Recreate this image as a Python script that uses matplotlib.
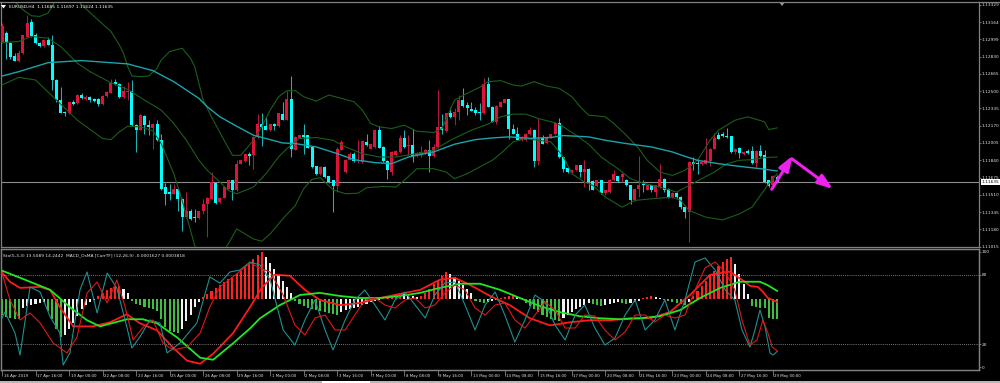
import matplotlib
matplotlib.use("Agg")
import matplotlib.pyplot as plt
import matplotlib.transforms as mtransforms
from matplotlib.lines import Line2D
from matplotlib.patches import Rectangle, Polygon
import numpy as np

plt.rcParams['font.family'] = ['DejaVu Sans']

# EURUSD H4, bars from 16 Apr 2019 08:00 to 29 May 2019 04:00
opens = [1.12977, 1.13057, 1.12967, 1.12839, 1.12795, 1.12865, 1.13025, 1.13159, 1.13041, 1.12967,
         1.12935, 1.12993, 1.12945, 1.12609, 1.12417, 1.12305, 1.12289, 1.12401, 1.12385, 1.12465,
         1.12427, 1.12449, 1.12423, 1.12427, 1.12379, 1.12455, 1.12487, 1.12590, 1.12571, 1.12443,
         1.12494, 1.12507, 1.12177, 1.12135, 1.12263, 1.12177, 1.12151, 1.12187, 1.12033, 1.11585,
         1.11537, 1.11521, 1.11569, 1.11473, 1.11297, 1.11361, 1.11297, 1.11291, 1.11353, 1.11419,
         1.11473, 1.11623, 1.11438, 1.11483, 1.11569, 1.11649, 1.11553, 1.11809, 1.11835, 1.11899,
         1.11889, 1.12065, 1.12193, 1.12167, 1.12129, 1.12187, 1.12167, 1.12283, 1.12231, 1.12423,
         1.11943, 1.12059, 1.12081, 1.12081, 1.11969, 1.11783, 1.11707, 1.11777, 1.11687, 1.11649,
         1.11598, 1.11943, 1.11729, 1.11847, 1.11905, 1.11841, 1.11825, 1.12017, 1.11953, 1.11969,
         1.12129, 1.11969, 1.11835, 1.11729, 1.11889, 1.11921, 1.12055, 1.11982, 1.11985, 1.11879,
         1.11889, 1.11905, 1.11943, 1.11879, 1.11969, 1.12155, 1.12123, 1.12289, 1.12257, 1.12305,
         1.12417, 1.12369, 1.12331, 1.12321, 1.12305, 1.12289, 1.12571, 1.12353, 1.12209, 1.12353,
         1.12391, 1.12423, 1.12145, 1.12097, 1.12033, 1.12033, 1.12091, 1.12135, 1.11835, 1.12059,
         1.12007, 1.12059, 1.12091, 1.12199, 1.11873, 1.11771, 1.11729, 1.11745, 1.11793, 1.11729,
         1.11761, 1.11643, 1.11591, 1.11649, 1.11527, 1.11537, 1.11649, 1.11687, 1.11681, 1.11649,
         1.11601, 1.11457, 1.11569, 1.11611, 1.11559, 1.11601, 1.11537, 1.11585, 1.11665, 1.11569,
         1.11489, 1.11527, 1.11489, 1.11393, 1.11345, 1.11825, 1.11815, 1.11803, 1.11809, 1.11835,
         1.11953, 1.12081, 1.12097, 1.12071, 1.12071, 1.11921, 1.11963, 1.11899, 1.11931, 1.11931,
         1.11815, 1.11931, 1.11889, 1.11649, 1.11601, 1.11685]
highs = [1.13153, 1.13073, 1.12977, 1.12865, 1.12897, 1.13041, 1.13233, 1.13191, 1.13057, 1.12977,
         1.13000, 1.13025, 1.13041, 1.12615, 1.12539, 1.12315, 1.12401, 1.12417, 1.12471, 1.12481,
         1.12465, 1.12459, 1.12433, 1.12433, 1.12465, 1.12507, 1.12615, 1.12615, 1.12577, 1.12551,
         1.12593, 1.12609, 1.12187, 1.12280, 1.12270, 1.12225, 1.12199, 1.12231, 1.12097, 1.11623,
         1.11617, 1.11617, 1.11579, 1.11483, 1.11537, 1.11374, 1.11377, 1.11361, 1.11473, 1.11489,
         1.11729, 1.11633, 1.11489, 1.11591, 1.11655, 1.11655, 1.11847, 1.11847, 1.11905, 1.11921,
         1.12071, 1.12283, 1.12289, 1.12257, 1.12193, 1.12199, 1.12295, 1.12401, 1.12507, 1.12647,
         1.12071, 1.12087, 1.12193, 1.12087, 1.11975, 1.11789, 1.11783, 1.11783, 1.11694, 1.11655,
         1.11969, 1.12039, 1.11854, 1.11921, 1.11921, 1.12033, 1.12033, 1.12091, 1.12001, 1.12142,
         1.12167, 1.11975, 1.11841, 1.11927, 1.11937, 1.12081, 1.12129, 1.12081, 1.12145, 1.11918,
         1.11975, 1.11950, 1.12033, 1.12001, 1.12513, 1.12283, 1.12295, 1.12347, 1.12337, 1.12465,
         1.12529, 1.12401, 1.12401, 1.12353, 1.12385, 1.12625, 1.12635, 1.12359, 1.12366, 1.12407,
         1.12430, 1.12430, 1.12193, 1.12161, 1.12071, 1.12103, 1.12161, 1.12142, 1.12241, 1.12081,
         1.12071, 1.12097, 1.12206, 1.12241, 1.11879, 1.11777, 1.11758, 1.11799, 1.11799, 1.11841,
         1.11767, 1.11649, 1.11655, 1.11655, 1.11559, 1.11665, 1.11745, 1.11694, 1.11719, 1.11665,
         1.11607, 1.11575, 1.11879, 1.11649, 1.11607, 1.11607, 1.11607, 1.11809, 1.11671, 1.11575,
         1.11534, 1.11537, 1.11495, 1.11399, 1.11831, 1.11873, 1.11857, 1.11831, 1.12059, 1.11959,
         1.12103, 1.12113, 1.12113, 1.12153, 1.12077, 1.11959, 1.11969, 1.11927, 1.11953, 1.11975,
         1.11937, 1.11985, 1.11937, 1.11655, 1.11697, 1.11697]
lows = [1.12961, 1.12807, 1.12807, 1.12788, 1.12785, 1.12859, 1.13019, 1.13025, 1.12955, 1.12929,
        1.12929, 1.12939, 1.12513, 1.12401, 1.12289, 1.12263, 1.12283, 1.12369, 1.12379, 1.12427,
        1.12417, 1.12401, 1.12401, 1.12359, 1.12372, 1.12449, 1.12481, 1.12558, 1.12436, 1.12436,
        1.12417, 1.12167, 1.11921, 1.12129, 1.12097, 1.12081, 1.11953, 1.12027, 1.11559, 1.11409,
        1.11457, 1.11515, 1.11361, 1.11169, 1.11291, 1.11271, 1.11249, 1.11281, 1.11329, 1.11105,
        1.11467, 1.11425, 1.11431, 1.11476, 1.11563, 1.11457, 1.11547, 1.11803, 1.11828, 1.11793,
        1.11761, 1.12059, 1.11975, 1.12129, 1.12123, 1.12129, 1.12161, 1.12225, 1.12225, 1.11873,
        1.11937, 1.12052, 1.11905, 1.11956, 1.11771, 1.11700, 1.11700, 1.11675, 1.11627, 1.11345,
        1.11537, 1.11937, 1.11723, 1.11841, 1.11825, 1.11815, 1.11819, 1.11979, 1.11947, 1.11963,
        1.11956, 1.11828, 1.11665, 1.11697, 1.11883, 1.11915, 1.11963, 1.11889, 1.11825, 1.11873,
        1.11873, 1.11899, 1.11729, 1.11873, 1.11963, 1.12097, 1.12116, 1.12244, 1.12177, 1.12225,
        1.12353, 1.12273, 1.12308, 1.12273, 1.12225, 1.12283, 1.12347, 1.12203, 1.12187, 1.12347,
        1.12385, 1.12049, 1.12091, 1.12033, 1.12027, 1.12027, 1.12084, 1.11777, 1.11793, 1.11995,
        1.12001, 1.12052, 1.12084, 1.11867, 1.11729, 1.11723, 1.11723, 1.11739, 1.11681, 1.11585,
        1.11553, 1.11553, 1.11585, 1.11521, 1.11505, 1.11531, 1.11643, 1.11636, 1.11633, 1.11595,
        1.11419, 1.11451, 1.11489, 1.11537, 1.11553, 1.11537, 1.11489, 1.11579, 1.11537, 1.11483,
        1.11483, 1.11483, 1.11377, 1.11291, 1.11057, 1.11745, 1.11713, 1.11796, 1.11803, 1.11783,
        1.11947, 1.12043, 1.12065, 1.12059, 1.11915, 1.11899, 1.11867, 1.11892, 1.11905, 1.11809,
        1.11777, 1.11873, 1.11627, 1.11585, 1.11595, 1.11624]
closes = [1.13127, 1.12961, 1.12833, 1.12795, 1.12871, 1.13035, 1.13153, 1.13031, 1.12961, 1.12935,
          1.12993, 1.12945, 1.12609, 1.12417, 1.12295, 1.12289, 1.12395, 1.12379, 1.12465, 1.12433,
          1.12449, 1.12417, 1.12411, 1.12379, 1.12459, 1.12497, 1.12583, 1.12567, 1.12443, 1.12507,
          1.12507, 1.12177, 1.12135, 1.12273, 1.12177, 1.12155, 1.12187, 1.12033, 1.11569, 1.11521,
          1.11521, 1.11569, 1.11473, 1.11297, 1.11361, 1.11281, 1.11291, 1.11353, 1.11425, 1.11483,
          1.11633, 1.11431, 1.11483, 1.11585, 1.11649, 1.11553, 1.11809, 1.11841, 1.11899, 1.11883,
          1.12065, 1.12193, 1.12155, 1.12135, 1.12187, 1.12167, 1.12289, 1.12231, 1.12423, 1.11953,
          1.12065, 1.12081, 1.12065, 1.11963, 1.11777, 1.11707, 1.11777, 1.11681, 1.11633, 1.11598,
          1.11953, 1.12017, 1.11847, 1.11905, 1.11835, 1.11847, 1.12027, 1.11985, 1.11995, 1.12135,
          1.11963, 1.11835, 1.11745, 1.11921, 1.11931, 1.12059, 1.11969, 1.11985, 1.11879, 1.11911,
          1.11921, 1.11943, 1.11879, 1.11969, 1.12155, 1.12129, 1.12289, 1.12251, 1.12305, 1.12417,
          1.12359, 1.12337, 1.12315, 1.12295, 1.12289, 1.12571, 1.12353, 1.12209, 1.12359, 1.12401,
          1.12423, 1.12145, 1.12097, 1.12039, 1.12065, 1.12097, 1.12135, 1.11835, 1.12059, 1.12001,
          1.12065, 1.12091, 1.12199, 1.11873, 1.11761, 1.11729, 1.11751, 1.11793, 1.11729, 1.11761,
          1.11633, 1.11559, 1.11649, 1.11527, 1.11553, 1.11649, 1.11713, 1.11643, 1.11707, 1.11601,
          1.11463, 1.11569, 1.11601, 1.11601, 1.11601, 1.11553, 1.11601, 1.11665, 1.11559, 1.11489,
          1.11527, 1.11489, 1.11393, 1.11345, 1.11825, 1.11803, 1.11809, 1.11825, 1.11847, 1.11953,
          1.12059, 1.12049, 1.12071, 1.12065, 1.11921, 1.11953, 1.11911, 1.11921, 1.11911, 1.11815,
          1.11931, 1.11879, 1.11633, 1.11591, 1.11687, 1.11635]

date_labels = ['16 Apr 2019', '17 Apr 16:00', '19 Apr 00:00', '22 Apr 08:00', '23 Apr 16:00',
               '25 Apr 00:00', '26 Apr 08:00', '29 Apr 16:00', '1 May 00:00', '2 May 08:00',
               '3 May 16:00', '7 May 00:00', '8 May 08:00', '9 May 16:00', '13 May 00:00',
               '14 May 08:00', '15 May 16:00', '17 May 00:00', '20 May 08:00', '21 May 16:00',
               '23 May 00:00', '24 May 08:00', '27 May 16:00', '29 May 00:00']
price_labels = ['1.11015', '1.11180', '1.11345', '1.11510', '1.11675', '1.11840', '1.12005', '1.12170',
                '1.12335', '1.12500', '1.12665', '1.12830', '1.12999', '1.13164', '1.13329']

# moving average (teal) sampled at bars
ma_x = [0, 4, 11, 19, 30, 36, 41, 47, 49, 52, 56, 60, 67, 70, 75, 80, 84, 89, 93, 97, 103, 108, 113,
        117, 121, 126, 131, 134, 140, 144, 149, 155, 160, 163, 166, 171, 176, 181, 185]
ma_v = [1.12647, 1.12689, 1.12775, 1.12795, 1.12763, 1.12699, 1.12593, 1.12433, 1.12353, 1.12257,
        1.12167, 1.12081, 1.12007, 1.12001, 1.11969, 1.11905, 1.11847, 1.11819, 1.11809, 1.11873,
        1.11921, 1.11995, 1.12039, 1.12055, 1.12065, 1.12052, 1.12059, 1.12078, 1.12065, 1.12033,
        1.12001, 1.11969, 1.11921, 1.11879, 1.11841, 1.11809, 1.11783, 1.11761, 1.11739]

# Bollinger bands (dark green) sampled at bars
bb_up_x = [0, 3, 5, 7, 9, 11, 12, 13, 15, 17, 19, 22, 26, 28, 29, 30, 31, 33, 35, 37, 38, 40, 43, 45,
           46, 48, 50, 53, 55, 57, 60, 62, 64, 66, 68, 70, 72, 75, 78, 81, 84, 86, 88, 90, 93, 96,
           99, 103, 105, 108, 111, 114, 116, 119, 122, 124, 127, 130, 133, 136, 138, 140, 144, 146,
           149, 152, 154, 157, 160, 163, 166, 169, 171, 175, 178, 182, 183, 185]
bb_up = [1.13473, 1.13361, 1.13281, 1.13223, 1.13217, 1.13249, 1.13313, 1.13409, 1.13473, 1.13425,
         1.13329, 1.13217, 1.13073, 1.12945, 1.12865, 1.12737, 1.12647, 1.12641, 1.12647, 1.12721,
         1.12801, 1.12881, 1.12913, 1.12817, 1.12737, 1.12417, 1.12257, 1.12033, 1.11889, 1.11889,
         1.12033, 1.12161, 1.12321, 1.12449, 1.12507, 1.12507, 1.12449, 1.12407, 1.12465, 1.12433,
         1.12401, 1.12321, 1.12193, 1.12161, 1.12145, 1.12177, 1.12119, 1.12107, 1.12145, 1.12417,
         1.12481, 1.12539, 1.12593, 1.12603, 1.12561, 1.12551, 1.12593, 1.12551, 1.12529, 1.12449,
         1.12353, 1.12273, 1.12257, 1.12193, 1.12081, 1.11953, 1.11841, 1.11729, 1.11697, 1.11745,
         1.11841, 1.12033, 1.12129, 1.12225, 1.12257, 1.12209, 1.12135, 1.12151]
bb_mid_x = [0, 4, 7, 11, 14, 18, 21, 26, 30, 34, 38, 41, 44, 47, 49, 52, 54, 56, 60, 63, 66, 68, 71,
            75, 79, 82, 86, 90, 94, 98, 103, 107, 112, 116, 119, 122, 125, 128, 132, 134, 137, 140,
            143, 147, 150, 153, 157, 161, 164, 167, 170, 173, 176, 179, 182, 185]
bb_mid = [1.12967, 1.12977, 1.13025, 1.13009, 1.12929, 1.12769, 1.12689, 1.12583, 1.12519, 1.12417,
          1.12321, 1.12193, 1.12033, 1.11841, 1.11745, 1.11633, 1.11553, 1.11521, 1.11585, 1.11713,
          1.11873, 1.11953, 1.12049, 1.12059, 1.12033, 1.11969, 1.11905, 1.11873, 1.11873, 1.11899,
          1.11937, 1.12033, 1.12129, 1.12187, 1.12257, 1.12283, 1.12283, 1.12241, 1.12199, 1.12161,
          1.12081, 1.11995, 1.11873, 1.11761, 1.11665, 1.11623, 1.11585, 1.11537, 1.11601, 1.11665,
          1.11729, 1.11809, 1.11841, 1.11847, 1.11867, 1.11873]
bb_low_x = [0, 4, 8, 13, 18, 24, 26, 28, 30, 33, 36, 38, 41, 43, 46, 49, 52, 54, 56, 58, 60, 62, 64,
            67, 70, 72, 74, 76, 79, 82, 85, 87, 91, 94, 96, 99, 103, 106, 108, 111, 114, 117, 119,
            122, 125, 128, 131, 134, 136, 139, 141, 144, 148, 151, 155, 160, 162, 164, 168, 172, 176,
            179, 183, 185]
bb_low = [1.12561, 1.12635, 1.12609, 1.12417, 1.12225, 1.12049, 1.12039, 1.12113, 1.12167, 1.12161,
          1.12123, 1.12001, 1.11713, 1.11457, 1.11025, 1.10753, 1.10913, 1.11041, 1.11185, 1.11137,
          1.11089, 1.11067, 1.11137, 1.11281, 1.11409, 1.11569, 1.11659, 1.11675, 1.11559, 1.11521,
          1.11527, 1.11579, 1.11591, 1.11585, 1.11649, 1.11761, 1.11761, 1.11729, 1.11665, 1.11713,
          1.11777, 1.11841, 1.11905, 1.12017, 1.12049, 1.12033, 1.12017, 1.11873, 1.11713, 1.11633,
          1.11601, 1.11489, 1.11393, 1.11457, 1.11473, 1.11489, 1.11457, 1.11361, 1.11297, 1.11271,
          1.11329, 1.11393, 1.11617, 1.11713]

# Stochastic(5,3,3): main and signal, sampled at bars
sto_k_x = [0, 0.7, 3.1, 4.3, 6.7, 9.1, 11.5, 13.8, 14.6, 16.2, 18.6, 20.3, 22.7, 25.1, 27.4, 29.8,
           31, 32.9, 35.3, 37.7, 39.4, 42.5, 46.5, 49.6, 52, 54.4, 56.8, 59.2, 61.6, 64, 67.1, 69.9,
           72.3, 74.7, 77.1, 79, 81.9, 84.2, 86.6, 89, 91.4, 93.8, 96.2, 98.6, 101, 103.3, 105.7,
           108.1, 110.5, 112.9, 115.3, 117.7, 120, 122.4, 124.8, 127.2, 129.6, 132, 134.4, 136.8,
           139.1, 141.5, 143.9, 146.3, 148.7, 151.1, 153.5, 155.8, 158.2, 160.6, 163, 165.4, 167.8,
           170.2, 172.6, 174.9, 176.6, 178.5, 179.7, 180.9, 182.1, 183.3, 184, 185]
sto_k = [42.6, 47.8, 29.6, 10.4, 69.6, 65.2, 43.5, 29.6, 1.7, 12.2, 67.0, 82.6, 47.0, 81.7, 68.7, 34.8,
         16.5, 26.1, 40.9, 38.3, 12.2, 20.9, 38.3, 78.3, 73.0, 82.6, 84.3, 91.3, 88.7, 75.7, 32.2, 19.1,
         40.9, 58.3, 32.2, 14.8, 40.9, 58.3, 67.0, 53.9, 40.9, 58.3, 65.2, 53.9, 42.6, 62.6, 73.0,
         73.9, 53.9, 32.2, 53.9, 65.2, 45.2, 21.7, 40.9, 62.6, 56.5, 36.5, 23.5, 45.2, 53.9, 33.9,
         19.1, 25.2, 45.2, 58.3, 32.2, 40.9, 58.3, 32.2, 58.3, 91.3, 94.8, 84.3, 67.0, 58.3, 32.2,
         17.4, 32.2, 49.6, 34.8, 12.2, 10.4, 13.5]
sto_d_x = [0, 1.9, 4.3, 6.7, 9.1, 12.2, 15.5, 17.9, 20.3, 22.7, 25.1, 27.4, 29.4, 31.3, 33.7, 36,
           38.4, 40.8, 44.2, 47.3, 49.6, 52, 55.1, 59.2, 61.6, 64, 67.1, 69.9, 72.3, 74.7, 77.1, 79.5,
           81.9, 84.2, 86.6, 89, 91.4, 93.8, 96.2, 98.6, 101, 103.3, 105.7, 108.1, 110.5, 112.9,
           115.3, 117.7, 120, 122.4, 124.8, 127.2, 129.6, 132, 134.4, 136.8, 139.1, 141.5, 143.9,
           146.3, 148.7, 151.1, 153.5, 155.8, 158.2, 160.6, 163, 165.4, 167.8, 170.2, 172.6, 174.9,
           176.6, 178.5, 180.2, 181.6, 182.8, 183.8, 185]
sto_d = [81.7, 58.3, 40.9, 47.0, 38.3, 20.9, 12.2, 26.1, 64.3, 73.9, 55.7, 75.7, 52.2, 23.5, 34.8, 40.9,
         20.9, 14.8, 17.4, 29.6, 52.2, 69.6, 78.3, 90.4, 86.1, 82.6, 62.6, 36.5, 27.8, 42.6, 45.2, 32.2,
         32.2, 45.2, 58.3, 60.0, 53.9, 51.3, 58.3, 60.0, 51.3, 53.9, 64.3, 71.3, 67.0, 51.3, 45.2,
         53.9, 55.7, 40.9, 33.9, 45.2, 56.5, 49.6, 33.9, 33.9, 45.2, 44.3, 32.2, 23.5, 30.4, 45.2,
         45.2, 39.1, 45.2, 42.6, 45.2, 67.0, 86.1, 91.3, 82.6, 67.0, 40.9, 19.1, 23.5, 40.9, 29.6,
         17.4, 14.2]

# MACD(12,26,9) main and signal lines, in points (0.00001)
macd_x = [0, 1.9, 4.3, 9.1, 11.5, 13.8, 17, 21.7, 25.8, 29.8, 32.9, 37, 40.8, 44.2, 47.3, 50.4, 55.1,
          59.2, 62, 65, 68.7, 72.3, 75.9, 80.7, 85.4, 90.2, 95, 99.8, 104.5, 108, 111.7, 116.5,
          121.2, 126, 130.8, 135.6, 140.3, 145.1, 149.9, 154.7, 159.4, 164.2, 169, 173.7, 177.3,
          178.5, 180.4, 181.6, 182.8, 185]
macd_main = [21.1, 13.8, 8.9, 9.7, 7.3, -6.5, -21.9, -21.9, -18.6, -12.2, -19.4, -25.1, -38.9, -49.4,
             -51.8, -43.7, -27.5, -6.5, 8.9, 19.4, 18.6, 7.3, -0.8, -4.9, -3.2, 0.8, 4.1, 7.3, 15.4,
             17.0, 11.3, 2.4, -4.9, -15.4, -21.1, -18.6, -17.0, -17.0, -15.4, -15.4, -10.5, 3.2, 19.4,
             21.9, 13.8, 10.5, 9.7, 5.7, 0.8, -2.4]
sig_x = [0, 4.3, 11.5, 16.2, 20.3, 23.4, 29.8, 33.6, 37, 41.8, 47.3, 50.4, 55.1, 59.2, 61.6, 66.3,
         71.1, 75.9, 80.7, 85.4, 90.2, 95, 99.8, 104.5, 109.3, 114.1, 118.9, 123.6, 128.4, 133.2,
         137.9, 142.7, 147.5, 152.3, 157, 161.8, 166.6, 171.4, 176.1, 178.5, 180.9, 182.6, 185]
macd_sig = [22.7, 17.0, 7.3, -6.5, -17.0, -21.9, -16.2, -16.2, -19.4, -30.8, -47.0, -48.6, -35.6, -23.5,
            -15.4, -4.9, 3.2, 4.9, 2.4, 0.8, 0.8, 2.4, 4.9, 8.9, 12.2, 12.2, 7.3, 0.8, -5.7, -10.5,
            -13.8, -15.4, -16.2, -15.4, -13.8, -8.9, 0.8, 8.9, 13.8, 13.8, 13.8, 11.3, 6.5]

# OsMA histogram, in points, one value per bar
osma = [-12.8, -14.4, -15.2, -16.0, -16.0, -7.2, -5.6, -4.8, -4.0, -3.2, -2.4, -9.6, -16.0, -24.0,
        -30.4, -28.8, -24.0, -19.2, -13.6, -8.0, -4.8, -2.4, -0.8, 2.4, 4.8, 7.2, 8.8, 9.6, 10.4, 8.0,
        4.8, -1.6, -4.0, -4.8, -6.4, -7.2, -8.0, -9.6, -16.0, -22.4, -25.6, -26.4, -27.2, -24.0,
        -17.6, -12.8, -6.4, -2.4, 1.6, 4.0, 6.4, 8.8, 11.2, 13.6, 16.0, 17.6, 20.0, 22.4, 25.6, 28.8,
        32.0, 35.2, 37.6, 33.6, 28.8, 24.0, 19.2, 14.4, 9.6, 4.8, -1.6, -4.0, -5.6, -7.2, -8.0, -8.8,
        -9.6, -10.4, -11.2, -12.0, -12.8, -10.4, -8.8, -8.0, -7.2, -6.4, -4.8, -4.0, -2.4, -1.6, -0.8,
        0.8, 2.4, 3.2, 4.0, 4.8, 4.0, 3.2, 2.4, 1.6, 2.4, 4.8, 8.0, 12.0, 15.2, 18.4, 21.6, 20.0,
        17.6, 14.4, 11.2, 8.0, 4.8, -1.6, -2.4, -3.2, -2.4, -1.6, -0.8, 0.8, 1.6, 2.4, 3.2, 1.6, 0.8,
        -3.2, -5.6, -8.0, -10.4, -12.8, -14.4, -16.0, -16.8, -17.6, -15.2, -12.8, -10.4, -8.0, -6.4,
        -4.8, -3.2, -4.0, -4.8, -5.6, -4.8, -4.0, -3.2, -2.4, -3.2, -4.0, -3.2, -2.4, -1.6, 0.8, 1.6,
        2.4, 1.6, 0.8, -0.8, -1.6, -2.4, -3.2, -4.0, -4.8, -2.4, 2.4, 6.4, 10.4, 14.4, 18.4, 22.4,
        26.4, 29.6, 32.0, 33.6, 28.0, 20.0, 12.0, 4.0, -5.6, -6.4, -6.8, -7.2, -15.2, -15.6, -16.3]

# ------------------------------------------------------------------
W, H = 1000.0, 383.0
BG = 'black'
GRID = '#808080'
TXT = '#e4e4e4'
FS = 3.1

fig = plt.figure(figsize=(W / 100, H / 100), dpi=100, facecolor=BG)
ax = fig.add_axes([1 / W, 1 - 247 / H, 978 / W, 245 / H], facecolor=BG)
axs = fig.add_axes([1 / W, 1 - 370 / H, 978 / W, 121 / H], facecolor=BG)

n = len(closes)
idx = np.arange(n)
o = np.array(opens)
c = np.array(closes)
hi = np.array(highs)
lo = np.array(lows)
up = c >= o

# candles
ax.vlines(idx[up], lo[up], hi[up], color='#b3163f', lw=0.75, zorder=2)
ax.vlines(idx[~up], lo[~up], hi[~up], color='#1fb3b3', lw=0.75, zorder=2)
body_bot = np.minimum(o, c)
body_h = np.maximum(np.abs(c - o), 0.00003)
ax.bar(idx[up], body_h[up], bottom=body_bot[up], width=0.72, color='#dc143c', lw=0, zorder=3)
ax.bar(idx[~up], body_h[~up], bottom=body_bot[~up], width=0.72, color='#00ffff', lw=0, zorder=3)

# indicators on the price chart
ax.plot(bb_up_x, bb_up, color='#1b5e1b', lw=0.8, zorder=4)
ax.plot(bb_mid_x, bb_mid, color='#1b5e1b', lw=0.8, zorder=4)
ax.plot(bb_low_x, bb_low, color='#1b5e1b', lw=0.8, zorder=4)
ax.plot(ma_x, ma_v, color='#1aa3aa', lw=1.0, zorder=4)

ax.axhline(closes[-1], color='#8c8c8c', lw=0.8, zorder=1)

xmin, xmax = (1 - 2) / 4.19, (979 - 2) / 4.19
ax.set_xlim(xmin, xmax)
ax.set_ylim(1.11012, 1.13355)

ax.set_xticks([])
ax.yaxis.tick_right()
ax.set_yticks(np.linspace(1.11015, 1.13329, 15))
ax.set_yticklabels(price_labels)
ax.tick_params(axis='y', colors=GRID, labelcolor=TXT, labelsize=FS, length=1.5, width=0.6, pad=0.6)
for s in ['left', 'right', 'bottom']:
    ax.spines[s].set_color(GRID)
    ax.spines[s].set_linewidth(0.9)
ax.spines['top'].set_visible(False)

# last price box
trans = mtransforms.blended_transform_factory(ax.transAxes, ax.transData)
ax.text(1.003, closes[-1], '%.5f' % closes[-1], transform=trans, fontsize=FS, color='black',
        va='center', ha='left', zorder=20, clip_on=False,
        bbox=dict(boxstyle='square,pad=0.3', fc='white', ec='none'))

# hand drawn arrows
arr_col = '#ee22ee'
ax.annotate('', xy=(188.7, 1.11885), xytext=(183.7, 1.11564),
            arrowprops=dict(arrowstyle='-|>,head_length=0.9,head_width=0.32', color=arr_col,
                            lw=2.2, shrinkA=0, shrinkB=0, mutation_scale=10), zorder=10)
ax.annotate('', xy=(198.3, 1.11567), xytext=(188.5, 1.11856),
            arrowprops=dict(arrowstyle='-|>,head_length=0.9,head_width=0.32', color=arr_col,
                            lw=2.2, shrinkA=0, shrinkB=0, mutation_scale=10), zorder=10)

# ---- sub window: OsMA histogram + MACD lines (points), stochastic (0-100) ----
osma_a = np.array(osma)
prev = np.concatenate([[osma_a[0]], osma_a[:-1]])
cols = []
for v, p in zip(osma_a, prev):
    if v > 0:
        cols.append('#ff2222' if v >= p else '#f2f2f2')
    else:
        cols.append('#3fbf3f' if v <= p else '#f2f2f2')
axs.bar(idx, osma_a, width=0.5, color=cols, lw=0, zorder=2)
axs.plot(macd_x, macd_main, color='#ff1a1a', lw=1.3, zorder=3)
axs.plot(sig_x, macd_sig, color='#22e622', lw=1.3, zorder=3)
axs.set_ylim(-56.8, 40.0)
axs.set_xlim(xmin, xmax)
axs.set_yticks([])

axk = axs.twinx()
axk.set_xlim(xmin, xmax)
axk.set_ylim(-2.6, 102.6)
axk.axhline(80, color='#a0a0a0', lw=0.6, ls=(0, (1, 1.5)))
axk.axhline(20, color='#a0a0a0', lw=0.6, ls=(0, (1, 1.5)))
axk.plot(sto_k_x, sto_k, color='#1f9090', lw=0.8, zorder=4)
axk.plot(sto_d_x, sto_d, color='#e01818', lw=0.8, zorder=4)
axk.set_yticks([0, 20, 80, 100])
axk.set_yticklabels(['0', '20', '80', '100'])
axk.tick_params(axis='y', colors=GRID, labelcolor=TXT, labelsize=FS, length=1.5, width=0.6, pad=0.6)

for a in (axs, axk):
    for s in a.spines.values():
        s.set_color(GRID)
        s.set_linewidth(0.9)

axs.set_xticks(np.arange(0, 8 * len(date_labels), 8))
axs.set_xticklabels(date_labels)
axs.tick_params(axis='x', colors=GRID, labelcolor=TXT, labelsize=2.8, length=4, width=0.6, pad=-0.8)
shift = mtransforms.ScaledTranslation(1.5 / 100, 0, fig.dpi_scale_trans)
for lbl in axs.get_xticklabels():
    lbl.set_ha('left')
    lbl.set_transform(lbl.get_transform() + shift)
axk.tick_params(axis='x', bottom=False, labelbottom=False)

# window furniture
fig.add_artist(Line2D([0, 1], [1 - 2 / H, 1 - 2 / H], color=GRID, lw=0.9))
fig.add_artist(Rectangle((0, 0), 1, 2.2 / H, transform=fig.transFigure, color='#b8b8b8', lw=0))
fig.add_artist(Rectangle((322 / W, 0), 48 / W, 2.2 / H, transform=fig.transFigure, color='white', lw=0))
fig.add_artist(Polygon([[779 / W, 1 - 2 / H], [785 / W, 1 - 2 / H], [782 / W, 1 - 6 / H]],
                       closed=True, transform=fig.transFigure, color='#9a9a9a', lw=0))
fig.add_artist(Polygon([[1 / W, 1 - 5 / H], [6 / W, 1 - 5 / H], [3.5 / W, 1 - 8.5 / H]],
                       closed=True, transform=fig.transFigure, color='white', lw=0))

fig.text(9 / W, 1 - 7.5 / H, 'EURUSD,H4  %.5f %.5f %.5f %.5f' % (opens[-1], highs[-1], lows[-1], closes[-1]),
         fontsize=3.2, color='white', va='center', ha='left')
fig.text(3 / W, 1 - 255 / H,
         'Sto(5,3,3) %.4f %.4f  MACD_OsMA [CurrTF] (12,26,9) %.7f %.7f'
         % (sto_k[-1] + 0.0089, sto_d[-1] + 0.0442, -0.0001627, 0.0003818),
         fontsize=3.2, color=TXT, va='center', ha='left')

fig.savefig('out.png', dpi=100, facecolor=BG)
